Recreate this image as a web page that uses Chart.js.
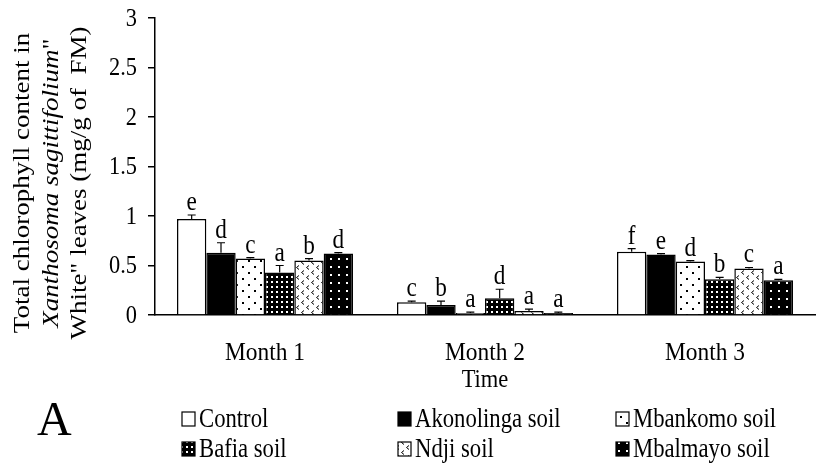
<!DOCTYPE html>
<html>
<head>
<meta charset="utf-8">
<script src="https://cdn.jsdelivr.net/npm/chart.js@4.4.1/dist/chart.umd.min.js"></script>
<style>
  html, body { margin: 0; padding: 0; background: #fff; }
  #wrap { width: 817px; height: 470px; position: relative; }
</style>
</head>
<body>
<div id="wrap"><canvas id="chart"></canvas></div>
<script>
// values (mg/g of FM)
const months = ['Month 1', 'Month 2', 'Month 3'];
const seriesNames = ['Control', 'Akonolinga soil', 'Mbankomo soil', 'Bafia soil', 'Ndji soil', 'Mbalmayo soil'];

const control = [0.97, 0.13, 0.64];
const akonolinga = [0.63, 0.10, 0.61];
const mbankomo = [0.57, 0.02, 0.54];
const bafia = [0.43, 0.17, 0.36];
const ndji = [0.55, 0.04, 0.47];
const mbalmayo = [0.62, 0.02, 0.35];

const controlErr = [0.04, 0.01, 0.03];
const akonolingaErr = [0.10, 0.04, 0.01];
const mbankomoErr = [0.01, 0.01, 0.01];
const bafiaErr = [0.07, 0.09, 0.02];
const ndjiErr = [0.02, 0.02, 0.01];
const mbalmayoErr = [0.01, 0.01, 0.01];

const controlLetters = ['e', 'c', 'f'];
const akonolingaLetters = ['d', 'b', 'e'];
const mbankomoLetters = ['c', 'a', 'd'];
const bafiaLetters = ['a', 'd', 'b'];
const ndjiLetters = ['b', 'a', 'c'];
const mbalmayoLetters = ['d', 'a', 'a'];

const yTicks = [0, 0.5, 1, 1.5, 2, 2.5, 3];

const SERIF = "'Liberation Serif', 'Times New Roman', serif";
// the original figure's text is horizontally squeezed
const SQUEEZE = 0.86;

function squeezedText(c, text, x, y, font, align, sx) {
  c.save();
  c.font = font;
  c.textAlign = align;
  c.translate(x, y);
  c.scale(sx, 1);
  c.fillText(text, 0, 0);
  c.restore();
}

// fill patterns
function makePattern(size, bg, draw) {
  const c = document.createElement('canvas');
  c.width = size; c.height = size;
  const g = c.getContext('2d');
  g.fillStyle = bg;
  g.fillRect(0, 0, size, size);
  draw(g);
  return g.createPattern(c, 'repeat');
}

const ctx = document.getElementById('chart').getContext('2d');

const fills = [
  '#ffffff',
  '#000000',
  makePattern(12, '#ffffff', g => {
    g.fillStyle = '#000';
    g.fillRect(2, 2, 2, 2);
    g.fillRect(8, 8, 2, 2);
  }),
  makePattern(5, '#000000', g => {
    g.fillStyle = '#fff';
    g.fillRect(1, 1, 2, 2);
  }),
  makePattern(10, '#ffffff', g => {
    g.strokeStyle = '#000';
    g.lineWidth = 1;
    g.beginPath();
    g.moveTo(4, 0.5); g.lineTo(1.5, 2.5); g.lineTo(4, 4.5);
    g.moveTo(9, 5.5); g.lineTo(6.5, 7.5); g.lineTo(9, 9.5);
    g.stroke();
  }),
  makePattern(8, '#000000', g => {
    g.fillStyle = '#fff';
    g.fillRect(2, 2, 2, 2);
  }),
];

const values = [control, akonolinga, mbankomo, bafia, ndji, mbalmayo];
const errors = [controlErr, akonolingaErr, mbankomoErr, bafiaErr, ndjiErr, mbalmayoErr];
const letters = [controlLetters, akonolingaLetters, mbankomoLetters, bafiaLetters, ndjiLetters, mbalmayoLetters];

const datasets = seriesNames.map((name, i) => ({
  label: name,
  data: values[i],
  errors: errors[i],
  letters: letters[i],
  backgroundColor: fills[i],
  borderColor: '#000',
  borderWidth: 1.5,
  borderSkipped: 'bottom',
}));

// error bars + significance letters
const errorBars = {
  id: 'errorBars',
  afterDatasetsDraw(chart) {
    const c = chart.ctx;
    const y = chart.scales.y;
    c.save();
    c.strokeStyle = '#000';
    c.lineWidth = 1.2;
    c.fillStyle = '#000';
    c.textBaseline = 'alphabetic';
    chart.data.datasets.forEach((ds, i) => {
      const meta = chart.getDatasetMeta(i);
      meta.data.forEach((bar, j) => {
        const top = y.getPixelForValue(ds.data[j] + ds.errors[j]);
        c.beginPath();
        c.moveTo(bar.x, bar.y);
        c.lineTo(bar.x, top);
        c.moveTo(bar.x - 4, top);
        c.lineTo(bar.x + 4, top);
        c.stroke();
        squeezedText(c, ds.letters[j], bar.x, top - 5, '27px ' + SERIF, 'center', SQUEEZE);
      });
    });
    c.restore();
  }
};

// tick labels, titles, legend and panel letter
const decorations = {
  id: 'decorations',
  afterDraw(chart) {
    const c = chart.ctx;
    const area = chart.chartArea;
    const xs = chart.scales.x;
    const ys = chart.scales.y;
    c.save();
    c.fillStyle = '#000';

    // y tick labels
    c.textBaseline = 'middle';
    ys.ticks.forEach(t => {
      squeezedText(c, String(t.value), 137, ys.getPixelForValue(t.value) + 1, '26px ' + SERIF, 'right', SQUEEZE);
    });

    // category labels
    c.textBaseline = 'alphabetic';
    months.forEach((m, i) => {
      squeezedText(c, m, xs.getPixelForTick(i), 360, '26px ' + SERIF, 'center', 0.9);
    });

    // x axis title
    squeezedText(c, 'Time', (area.left + area.right) / 2, 387, '25px ' + SERIF, 'center', 0.9);

    // y axis title, three rotated lines
    c.textBaseline = 'middle';
    const cy = 183;
    const lines = [
      [['Total chlorophyll content in', '']],
      [['Xanthosoma sagittifolium', 'italic '], ['"', '']],
      [['White" leaves (mg/g of  FM)', '']],
    ];
    const lx = [23, 52, 80];
    lines.forEach((parts, k) => {
      c.save();
      c.translate(lx[k], cy);
      c.rotate(-Math.PI / 2);
      c.scale(1, SQUEEZE);
      let total = 0;
      parts.forEach(p => { c.font = p[1] + '27px ' + SERIF; total += c.measureText(p[0]).width; });
      let x = -total / 2;
      c.textAlign = 'left';
      parts.forEach(p => {
        c.font = p[1] + '27px ' + SERIF;
        c.fillText(p[0], x, 0);
        x += c.measureText(p[0]).width;
      });
      c.restore();
    });

    // legend, three columns
    const cols = [182, 398, 616];
    const rows = [427, 457];
    c.textBaseline = 'alphabetic';
    chart.data.datasets.forEach((ds, i) => {
      const x = cols[i % 3];
      const base = rows[Math.floor(i / 3)];
      c.fillStyle = ds.backgroundColor;
      c.fillRect(x, base - 15, 13, 14);
      c.strokeStyle = '#000';
      c.lineWidth = 1.2;
      c.strokeRect(x, base - 15, 13, 14);
      c.fillStyle = '#000';
      squeezedText(c, ds.label, x + 17, base, '27px ' + SERIF, 'left', 0.84);
    });

    // panel letter
    squeezedText(c, 'A', 37, 435, '48px ' + SERIF, 'left', 1);
    c.restore();
  }
};

new Chart(ctx, {
  type: 'bar',
  data: { labels: months, datasets },
  options: {
    responsive: true,
    maintainAspectRatio: false,
    animation: false,
    layout: { padding: { top: 18, right: 2, left: 0, bottom: 0 } },
    datasets: {
      bar: { categoryPercentage: 0.8, barPercentage: 1.0 }
    },
    plugins: {
      legend: { display: false },
      tooltip: { enabled: false },
    },
    scales: {
      x: {
        grid: { display: false },
        border: { display: true, color: '#000', width: 1.5 },
        ticks: { display: false },
        afterFit(scale) { scale.height = 155; },
      },
      y: {
        min: 0,
        max: 3,
        afterBuildTicks(scale) { scale.ticks = yTicks.map(v => ({ value: v })); },
        grid: { drawOnChartArea: false, drawTicks: true, tickLength: 7, color: '#000', lineWidth: 1.5 },
        border: { display: true, color: '#000', width: 1.5 },
        ticks: { display: false },
        afterFit(scale) { scale.width = 155; },
      }
    }
  },
  plugins: [errorBars, decorations]
});
</script>
</body>
</html>
